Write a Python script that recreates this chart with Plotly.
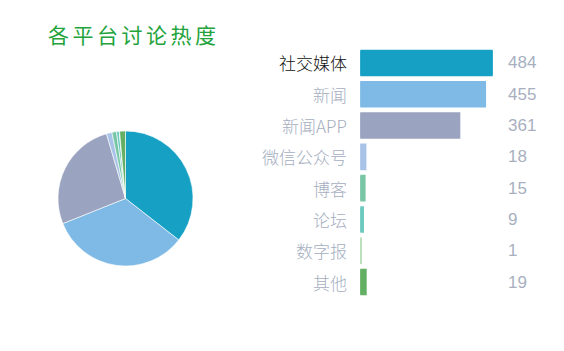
import plotly.graph_objects as go

categories = ["社交媒体", "新闻", "新闻APP", "微信公众号", "博客", "论坛", "数字报", "其他"]
values = [484, 455, 361, 18, 15, 9, 1, 19]
colors = ["#15A0C4", "#7EBAE5", "#9AA3C0", "#A9C3E8", "#78C6A6", "#6BC9C0", "#A9D8AA", "#63AF63"]
label_colors = ["#111111"] + ["#A5AEC0"] * 7
title_text = "\u2006".join("各平台讨论热度")

W, H = 564, 351

fig = go.Figure()

# pie
cx, cy, r = 125.5, 198.5, 67.5
fig.add_trace(go.Pie(
    labels=categories, values=values, sort=False, direction="clockwise", rotation=0,
    marker=dict(colors=colors, line=dict(color="white", width=0.6)),
    textinfo="none", showlegend=False,
    domain=dict(x=[(cx - r) / W, (cx + r) / W], y=[1 - (cy + r) / H, 1 - (cy - r) / H]),
))

# bars
lw = 2.5
fig.add_trace(go.Bar(
    x=values, y=categories, orientation="h",
    marker=dict(color=colors, line=dict(color=colors, width=lw)),
    showlegend=False, xaxis="x", yaxis="y",
))

for i, (c, v) in enumerate(zip(categories, values)):
    fig.add_annotation(x=349 / W, xref="paper", y=c, yref="y", text=c, showarrow=False,
                       xanchor="right", yanchor="middle",
                       font=dict(size=17, color=label_colors[i], family="Noto Sans CJK SC", weight=300))
    fig.add_annotation(x=506 / W, xref="paper", y=c, yref="y", text=str(v), showarrow=False,
                       xanchor="left", yanchor="middle",
                       font=dict(size=17, color="#A8B0C0", family="Liberation Sans, Arial"))

fig.add_annotation(x=46 / W, xref="paper", y=1 - 34 / H, yref="paper", text=title_text,
                   showarrow=False, xanchor="left", yanchor="middle",
                   font=dict(size=21, color="#23A33C", family="Noto Sans CJK SC", weight=400))

fig.update_layout(
    width=W, height=H, margin=dict(l=0, r=0, t=0, b=0),
    paper_bgcolor="white", plot_bgcolor="white",
    bargap=0.23,
    xaxis=dict(domain=[(359 + lw / 2) / W, (494 - lw / 2) / W], range=[0, 484], visible=False, fixedrange=True),
    yaxis=dict(domain=[1 - 297.65 / H, 1 - 47.35 / H], autorange="reversed",
               visible=False, type="category"),
)

fig.write_html("out.html")
